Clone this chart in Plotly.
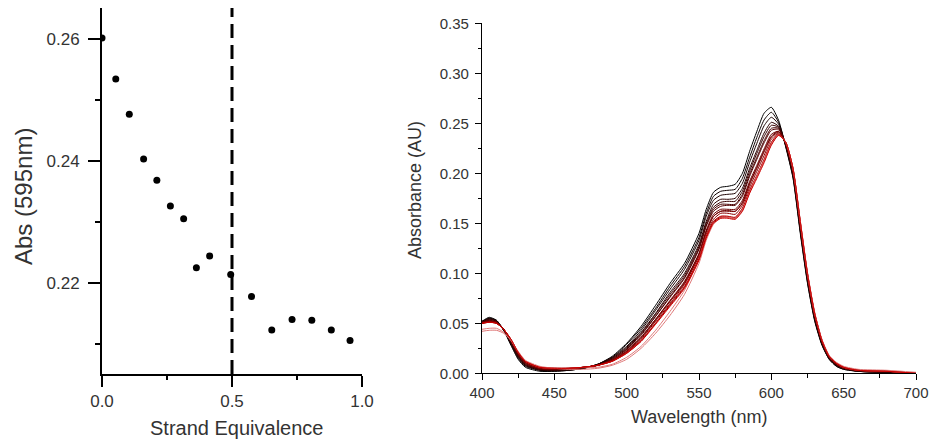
import plotly.graph_objects as go

# ---------------- Left panel data ----------------
strand_equiv = [0.0, 0.053, 0.105, 0.160, 0.211, 0.263, 0.314, 0.363, 0.414,
                0.495, 0.575, 0.653, 0.731, 0.807, 0.882, 0.954]
abs_595 = [0.2601, 0.2534, 0.2476, 0.2403, 0.2368, 0.2326, 0.2305, 0.2225, 0.2244,
           0.2214, 0.2178, 0.2123, 0.2140, 0.2139, 0.2123, 0.2106]
equiv_line_x = 0.5
left_xticks = [0.0, 0.5, 1.0]
left_yticks = [0.22, 0.24, 0.26]

# ---------------- Right panel data ----------------
wavelengths = [400, 405, 410, 415, 420, 425, 430, 440, 450, 460, 470, 480, 490, 500,
               510, 520, 530, 540, 550, 555, 560, 565, 570, 575, 580, 585, 590, 595,
               600, 605, 610, 615, 620, 625, 630, 635, 640, 645, 650, 660, 680, 700]

spec_01 = [0.052, 0.056, 0.053, 0.043, 0.028, 0.014, 0.006, 0.002, 0.002, 0.003, 0.005, 0.009, 0.017, 0.030,
           0.047, 0.068, 0.090, 0.110, 0.140, 0.164, 0.181, 0.186, 0.187, 0.189, 0.200, 0.222, 0.242, 0.2601,
           0.266, 0.253, 0.226, 0.195, 0.140, 0.090, 0.052, 0.028, 0.014, 0.007, 0.004, 0.002, 0.001, 0.000]
spec_02 = [0.052, 0.055, 0.053, 0.043, 0.029, 0.015, 0.007, 0.003, 0.002, 0.003, 0.005, 0.009, 0.016, 0.029,
           0.045, 0.065, 0.087, 0.107, 0.136, 0.160, 0.177, 0.182, 0.183, 0.184, 0.195, 0.216, 0.236, 0.2534,
           0.261, 0.251, 0.227, 0.196, 0.142, 0.091, 0.053, 0.029, 0.014, 0.007, 0.004, 0.002, 0.001, 0.000]
spec_03 = [0.051, 0.055, 0.052, 0.043, 0.030, 0.016, 0.008, 0.003, 0.003, 0.003, 0.005, 0.009, 0.016, 0.027,
           0.043, 0.063, 0.084, 0.104, 0.133, 0.157, 0.173, 0.178, 0.179, 0.180, 0.190, 0.211, 0.230, 0.2476,
           0.256, 0.249, 0.227, 0.198, 0.143, 0.093, 0.054, 0.029, 0.015, 0.008, 0.005, 0.002, 0.001, 0.000]
spec_04 = [0.051, 0.054, 0.052, 0.043, 0.030, 0.017, 0.008, 0.004, 0.003, 0.004, 0.005, 0.009, 0.015, 0.026,
           0.041, 0.060, 0.081, 0.100, 0.129, 0.152, 0.169, 0.174, 0.174, 0.175, 0.185, 0.205, 0.223, 0.2403,
           0.251, 0.247, 0.228, 0.199, 0.145, 0.094, 0.055, 0.030, 0.015, 0.008, 0.005, 0.002, 0.001, 0.000]
spec_05 = [0.051, 0.054, 0.052, 0.044, 0.031, 0.017, 0.009, 0.004, 0.003, 0.004, 0.005, 0.008, 0.015, 0.025,
           0.040, 0.059, 0.079, 0.098, 0.127, 0.150, 0.166, 0.171, 0.172, 0.172, 0.182, 0.202, 0.220, 0.2368,
           0.248, 0.246, 0.228, 0.200, 0.146, 0.095, 0.056, 0.030, 0.015, 0.008, 0.005, 0.002, 0.001, 0.000]
spec_06 = [0.051, 0.053, 0.051, 0.044, 0.031, 0.018, 0.009, 0.004, 0.004, 0.004, 0.006, 0.008, 0.014, 0.024,
           0.039, 0.057, 0.077, 0.096, 0.125, 0.148, 0.164, 0.169, 0.169, 0.169, 0.179, 0.199, 0.216, 0.2326,
           0.245, 0.245, 0.229, 0.201, 0.147, 0.096, 0.056, 0.031, 0.016, 0.009, 0.005, 0.003, 0.002, 0.000]
spec_07 = [0.051, 0.053, 0.051, 0.044, 0.032, 0.018, 0.010, 0.004, 0.004, 0.004, 0.006, 0.008, 0.014, 0.024,
           0.038, 0.057, 0.076, 0.095, 0.124, 0.147, 0.162, 0.167, 0.168, 0.168, 0.177, 0.197, 0.214, 0.2305,
           0.243, 0.244, 0.229, 0.201, 0.147, 0.096, 0.057, 0.031, 0.016, 0.009, 0.005, 0.003, 0.002, 0.000]
spec_08 = [0.050, 0.052, 0.051, 0.044, 0.033, 0.019, 0.011, 0.005, 0.004, 0.004, 0.006, 0.008, 0.013, 0.022,
           0.036, 0.054, 0.072, 0.091, 0.119, 0.142, 0.157, 0.162, 0.163, 0.162, 0.171, 0.190, 0.206, 0.2225,
           0.237, 0.242, 0.230, 0.203, 0.149, 0.098, 0.058, 0.032, 0.016, 0.009, 0.005, 0.003, 0.002, 0.000]
spec_09 = [0.051, 0.052, 0.051, 0.044, 0.032, 0.019, 0.010, 0.005, 0.004, 0.004, 0.006, 0.008, 0.013, 0.023,
           0.036, 0.054, 0.073, 0.092, 0.120, 0.143, 0.159, 0.164, 0.164, 0.164, 0.173, 0.192, 0.208, 0.2244,
           0.239, 0.242, 0.230, 0.202, 0.149, 0.097, 0.058, 0.032, 0.016, 0.009, 0.005, 0.003, 0.002, 0.000]
spec_10 = [0.050, 0.052, 0.051, 0.044, 0.033, 0.020, 0.011, 0.005, 0.004, 0.005, 0.006, 0.008, 0.013, 0.022,
           0.035, 0.053, 0.072, 0.090, 0.119, 0.141, 0.157, 0.162, 0.162, 0.162, 0.170, 0.189, 0.205, 0.2214,
           0.236, 0.241, 0.230, 0.203, 0.149, 0.098, 0.058, 0.032, 0.016, 0.009, 0.006, 0.003, 0.002, 0.000]
spec_11 = [0.050, 0.052, 0.050, 0.044, 0.033, 0.020, 0.011, 0.005, 0.005, 0.005, 0.006, 0.008, 0.013, 0.021,
           0.034, 0.052, 0.070, 0.089, 0.117, 0.139, 0.154, 0.160, 0.160, 0.159, 0.168, 0.186, 0.202, 0.2178,
           0.234, 0.240, 0.230, 0.204, 0.150, 0.099, 0.059, 0.032, 0.017, 0.010, 0.006, 0.003, 0.002, 0.000]
spec_12 = [0.050, 0.051, 0.050, 0.044, 0.034, 0.021, 0.012, 0.006, 0.005, 0.005, 0.006, 0.008, 0.012, 0.020,
           0.032, 0.050, 0.068, 0.086, 0.114, 0.136, 0.151, 0.156, 0.156, 0.155, 0.163, 0.181, 0.197, 0.2123,
           0.229, 0.238, 0.231, 0.205, 0.152, 0.100, 0.060, 0.033, 0.017, 0.010, 0.006, 0.003, 0.002, 0.000]
spec_13 = [0.044, 0.045, 0.045, 0.041, 0.033, 0.021, 0.012, 0.006, 0.005, 0.005, 0.006, 0.006, 0.009, 0.016,
           0.027, 0.043, 0.062, 0.083, 0.115, 0.137, 0.152, 0.157, 0.157, 0.156, 0.165, 0.183, 0.198, 0.2140,
           0.231, 0.239, 0.231, 0.204, 0.151, 0.099, 0.059, 0.033, 0.017, 0.010, 0.006, 0.003, 0.002, 0.000]
spec_14 = [0.050, 0.051, 0.050, 0.044, 0.034, 0.021, 0.012, 0.006, 0.005, 0.005, 0.006, 0.008, 0.012, 0.021,
           0.033, 0.050, 0.069, 0.087, 0.115, 0.137, 0.152, 0.157, 0.157, 0.156, 0.165, 0.183, 0.198, 0.2139,
           0.231, 0.239, 0.231, 0.204, 0.151, 0.099, 0.059, 0.033, 0.017, 0.010, 0.006, 0.003, 0.002, 0.000]
spec_15 = [0.042, 0.043, 0.043, 0.040, 0.033, 0.022, 0.013, 0.007, 0.005, 0.004, 0.004, 0.005, 0.008, 0.014,
           0.025, 0.040, 0.058, 0.079, 0.110, 0.133, 0.149, 0.155, 0.156, 0.155, 0.163, 0.181, 0.197, 0.2123,
           0.229, 0.238, 0.231, 0.205, 0.153, 0.101, 0.061, 0.034, 0.018, 0.011, 0.007, 0.004, 0.003, 0.001]
spec_16 = [0.050, 0.051, 0.050, 0.044, 0.034, 0.021, 0.012, 0.006, 0.005, 0.005, 0.006, 0.008, 0.012, 0.020,
           0.032, 0.049, 0.067, 0.085, 0.113, 0.135, 0.150, 0.155, 0.155, 0.154, 0.162, 0.180, 0.195, 0.2106,
           0.228, 0.238, 0.231, 0.205, 0.152, 0.100, 0.060, 0.033, 0.017, 0.010, 0.006, 0.003, 0.002, 0.000]

spectra = [spec_01, spec_02, spec_03, spec_04, spec_05, spec_06, spec_07, spec_08,
           spec_09, spec_10, spec_11, spec_12, spec_13, spec_14, spec_15, spec_16]
pale_curves = {12, 14}

# ---------------- Styles ----------------
FONT = "Liberation Sans, Arial, sans-serif"
TXT = "#333333"
W, H = 932, 441

fig = go.Figure()

fig.add_trace(go.Scatter(
    x=strand_equiv, y=abs_595, mode="markers",
    marker=dict(color="black", size=7),
    xaxis="x", yaxis="y", showlegend=False, cliponaxis=True))

n = len(spectra)
for i, s in enumerate(spectra):
    r = int(round(205 * i / (n - 1)))
    col = f"rgb({r},0,0)"
    if i in pale_curves:
        col = "rgb(222,118,118)"
    fig.add_trace(go.Scatter(
        x=wavelengths, y=s, mode="lines",
        line=dict(color=col, width=1, shape="spline", smoothing=0.6),
        xaxis="x2", yaxis="y2", showlegend=False))

fig.add_shape(type="line", xref="x", yref="y domain",
              x0=equiv_line_x, x1=equiv_line_x, y0=0, y1=1,
              line=dict(color="black", width=3, dash="14px,7px"))

def px_x(p):
    return p / W

def px_y(p):
    return 1 - p / H

fig.update_layout(
    template="none",
    width=W, height=H,
    margin=dict(l=0, r=0, t=0, b=0, autoexpand=False),
    paper_bgcolor="white", plot_bgcolor="white",
    font=dict(family=FONT, color=TXT),
    xaxis=dict(domain=[px_x(102), px_x(362)], anchor="y", range=[0, 1.0],
               automargin=False,
               tickvals=left_xticks, tickformat=".1f",
               showline=True, linecolor="black", linewidth=2,
               ticks="outside", ticklen=11, tickwidth=2, tickcolor="black",
               minor=dict(ticks="outside", dtick=0.25, tick0=0, ticklen=4,
                          tickwidth=2, tickcolor="black", showgrid=False),
               showgrid=False, zeroline=False,
               tickfont=dict(size=17, color=TXT, family=FONT)),
    yaxis=dict(domain=[px_y(374), px_y(8)], anchor="x", range=[0.2051, 0.2650],
               automargin=False,
               tickvals=left_yticks, tickformat=".2f",
               showline=True, linecolor="black", linewidth=2,
               ticks="outside", ticklen=12, tickwidth=2, tickcolor="black",
               ticklabelstandoff=5,
               minor=dict(ticks="outside", dtick=0.01, tick0=0.21, ticklen=5,
                          tickwidth=2, tickcolor="black", showgrid=False),
               showgrid=False, zeroline=False,
               tickfont=dict(size=17, color=TXT, family=FONT)),
    xaxis2=dict(domain=[px_x(482), px_x(916)], anchor="y2", range=[400, 700],
                automargin=False,
                dtick=50, tick0=400,
                showline=True, linecolor="black", linewidth=1.3,
                ticks="outside", ticklen=6, tickwidth=1, tickcolor="black",
                minor=dict(ticks="outside", dtick=25, tick0=400, ticklen=4,
                           tickwidth=1, tickcolor="black", showgrid=False),
                showgrid=False, zeroline=False,
                tickfont=dict(size=15, color=TXT, family=FONT)),
    yaxis2=dict(domain=[px_y(373.3), px_y(23.3)], anchor="x2", range=[0, 0.35],
                automargin=False,
                dtick=0.05, tick0=0, tickformat=".2f",
                showline=True, linecolor="black", linewidth=1.3,
                ticks="outside", ticklen=6, tickwidth=1, tickcolor="black",
                ticklabelstandoff=3,
                minor=dict(ticks="outside", dtick=0.025, tick0=0, ticklen=3,
                           tickwidth=1, tickcolor="black", showgrid=False),
                showgrid=False, zeroline=False,
                tickfont=dict(size=15, color=TXT, family=FONT)),
    annotations=[
        dict(text="Abs (595nm)", x=px_x(23), y=px_y(197), xref="paper", yref="paper",
             textangle=-90, showarrow=False, xanchor="center", yanchor="middle",
             font=dict(size=24, color=TXT, family=FONT)),
        dict(text="Strand Equivalence", x=px_x(236), y=px_y(428), xref="paper", yref="paper",
             showarrow=False, xanchor="center", yanchor="middle",
             font=dict(size=20, color=TXT, family=FONT)),
        dict(text="Absorbance (AU)", x=px_x(415), y=px_y(190), xref="paper", yref="paper",
             textangle=-90, showarrow=False, xanchor="center", yanchor="middle",
             font=dict(size=18, color=TXT, family=FONT)),
        dict(text="Wavelength (nm)", x=px_x(699), y=px_y(417), xref="paper", yref="paper",
             showarrow=False, xanchor="center", yanchor="middle",
             font=dict(size=18, color=TXT, family=FONT)),
    ],
)

fig.write_html("out.html")
